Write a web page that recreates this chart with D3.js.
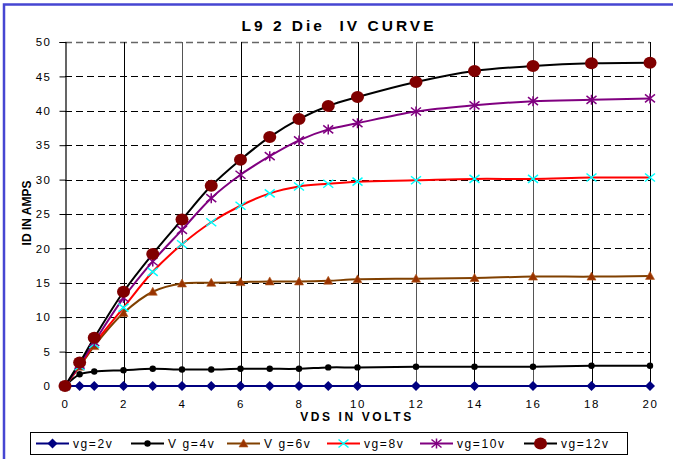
<!DOCTYPE html>
<html>
<head>
<meta charset="utf-8">
<script src="https://cdn.jsdelivr.net/npm/d3@7"></script>
<style>
  body { margin: 0; background: #fff; }
  text { font-family: Arial, "Liberation Sans", sans-serif; }
</style>
</head>
<body>
<svg id="chart"></svg>
<script>
const width = 673;
const height = 459;

// 1. Data
const vds = [0, 0.5, 1, 2, 3, 4, 5, 6, 7, 8, 9, 10, 12, 14, 16, 18, 20];
const vg2 = [0, 0, 0, 0, 0, 0, 0, 0, 0, 0, 0, 0, 0, 0, 0, 0, 0];
const vg4 = [0, 1.7, 2.1, 2.3, 2.5, 2.4, 2.4, 2.5, 2.5, 2.5, 2.7, 2.7, 2.8, 2.8, 2.8, 2.95, 2.95];
const vg6 = [0, 2.8, 5.8, 10.6, 13.7, 14.9, 15.0, 15.1, 15.2, 15.2, 15.3, 15.5, 15.6, 15.7, 15.9, 15.9, 16.0];
const vg8 = [0, 2.9, 6.1, 11.4, 16.6, 20.6, 23.8, 26.2, 28.0, 29.0, 29.4, 29.7, 29.9, 30.1, 30.1, 30.3, 30.3];
const vg10 = [0, 3.1, 6.4, 12.8, 18.1, 22.7, 27.3, 30.7, 33.4, 35.7, 37.3, 38.2, 39.9, 40.8, 41.4, 41.6, 41.8];
const vg12 = [0, 3.4, 7.0, 13.7, 19.2, 24.2, 29.1, 32.9, 36.2, 38.8, 40.7, 42.0, 44.2, 45.8, 46.5, 46.9, 47.0];

const seriesNames = ["vg=2v", "V g=4v", "V g=6v", "vg=8v", "vg=10v", "vg=12v"];
const xTicks = [0, 2, 4, 6, 8, 10, 12, 14, 16, 18, 20];
const yTicks = [0, 5, 10, 15, 20, 25, 30, 35, 40, 45, 50];

const styles = [
  { line: "#000080", marker: "diamond", fill: "#000080" },
  { line: "#000000", marker: "dot", fill: "#000000" },
  { line: "#804000", marker: "triangle", fill: "#993300" },
  { line: "#ff0000", marker: "cross", fill: "#00ffff" },
  { line: "#800080", marker: "star", fill: "#800080" },
  { line: "#000000", marker: "circle", fill: "#800000" },
];

const series = [vg2, vg4, vg6, vg8, vg10, vg12].map((vals, i) => ({
  name: seriesNames[i],
  style: styles[i],
  points: vals.map((v, j) => ({ x: vds[j], y: v })),
}));

// 2. Create bound
const svg = d3
  .select("#chart")
  .attr("width", width)
  .attr("height", height)
  .style("display", "block");

svg
  .append("rect")
  .attr("x", 4)
  .attr("y", 4.5)
  .attr("width", 720)
  .attr("height", 520)
  .attr("fill", "none")
  .attr("stroke", "#4646d2")
  .attr("stroke-width", 2.5);

const x = d3.scaleLinear().domain([0, 20]).range([65, 650]);
const y = d3.scaleLinear().domain([0, 50]).range([386, 42]);

// title
svg
  .append("text")
  .attr("x", 339)
  .attr("y", 31)
  .attr("text-anchor", "middle")
  .attr("font-size", "15.5px")
  .attr("font-weight", "bold")
  .attr("letter-spacing", "3px")
  .style("white-space", "pre")
  .text("L9 2 Die  IV CURVE");

// 3. Grid
const grid = svg.append("g");
grid
  .selectAll("line.h")
  .data(yTicks.filter((d) => d > 0))
  .join("line")
  .attr("class", "h")
  .attr("x1", x(0))
  .attr("x2", x(20))
  .attr("y1", (d) => Math.round(y(d)) + 0.5)
  .attr("y2", (d) => Math.round(y(d)) + 0.5)
  .attr("stroke", (d) => (d == 50 ? "#666" : "#000"))
  .attr("stroke-width", (d) => (d == 50 ? 1.5 : 1))
  .attr("stroke-dasharray", "7,4");

grid
  .selectAll("line.v")
  .data(xTicks.filter((d) => d > 0))
  .join("line")
  .attr("class", "v")
  .attr("x1", (d) => Math.round(x(d)) + 0.5)
  .attr("x2", (d) => Math.round(x(d)) + 0.5)
  .attr("y1", y(50))
  .attr("y2", y(0))
  .attr("stroke", (d) => (d % 4 == 0 && d != 20 ? "#555" : "#000"))
  .attr("stroke-width", 1);

// axes
const yAxis = svg
  .append("g")
  .attr("transform", `translate(${Math.round(x(0)) + 0.5},0)`)
  .call(d3.axisLeft(y).tickValues(yTicks).tickSize(6).tickPadding(8));
yAxis.select(".domain").attr("stroke", "#000").attr("stroke-width", 1.2);
yAxis
  .selectAll("text")
  .attr("font-size", "11.5px")
  .attr("font-family", "Arial, 'Liberation Sans', sans-serif")
  .attr("letter-spacing", "1.5px")
  .attr("fill", "#000");

const xAxis = svg
  .append("g")
  .attr("transform", `translate(0,${y(0)})`)
  .call(d3.axisBottom(x).tickValues(xTicks).tickSize(0).tickPadding(14));
xAxis.select(".domain").attr("stroke", "#000");
xAxis
  .selectAll("text")
  .attr("font-size", "11.5px")
  .attr("font-family", "Arial, 'Liberation Sans', sans-serif")
  .attr("letter-spacing", "1.5px")
  .attr("fill", "#000");

svg
  .append("text")
  .attr("x", 357)
  .attr("y", 421)
  .attr("text-anchor", "middle")
  .attr("font-size", "12px")
  .attr("font-weight", "bold")
  .attr("letter-spacing", "2.6px")
  .text("VDS IN VOLTS");

svg
  .append("text")
  .attr("transform", "translate(31,213) rotate(-90)")
  .attr("text-anchor", "middle")
  .attr("font-size", "12px")
  .attr("font-weight", "bold")
  .text("ID IN AMPS");

// 4. Lines and markers
const line = d3
  .line()
  .x((d) => x(d.x))
  .y((d) => y(d.y))
  .curve(d3.curveCatmullRom.alpha(0.5));

function drawMarker(g, kind, fill) {
  if (kind == "diamond") {
    g.append("path").attr("d", "M0,-5L5,0L0,5L-5,0Z").attr("fill", fill);
  } else if (kind == "dot") {
    g.append("circle").attr("r", 3.2).attr("fill", fill);
  } else if (kind == "triangle") {
    g.append("path")
      .attr("d", "M0,-4.5L4.5,3.5L-4.5,3.5Z")
      .attr("fill", fill)
      .attr("stroke", "#b05a20")
      .attr("stroke-width", 0.6);
  } else if (kind == "cross") {
    g.append("path")
      .attr("d", "M-5,-4L5,4M-5,4L5,-4")
      .attr("stroke", fill)
      .attr("stroke-width", 1.5);
  } else if (kind == "star") {
    g.append("path")
      .attr("d", "M-5,-4L5,4M-5,4L5,-4M0,-5L0,5")
      .attr("stroke", fill)
      .attr("stroke-width", 1.5);
  } else if (kind == "circle") {
    g.append("ellipse").attr("rx", 6.5).attr("ry", 6).attr("fill", fill);
  }
}

const plot = svg.append("g");
series.forEach((s) => {
  plot
    .append("path")
    .attr("d", line(s.points))
    .attr("fill", "none")
    .attr("stroke", s.style.line)
    .attr("stroke-width", 2);
});
series.forEach((s) => {
  s.points.forEach((p) => {
    const g = plot
      .append("g")
      .attr("transform", `translate(${x(p.x)},${y(p.y)})`);
    drawMarker(g, s.style.marker, s.style.fill);
  });
});

// 5. Legend
const legend = svg.append("g");
legend
  .append("rect")
  .attr("x", 30.5)
  .attr("y", 432.5)
  .attr("width", 597)
  .attr("height", 22)
  .attr("fill", "#fff")
  .attr("stroke", "#000")
  .attr("stroke-width", 1);

const legendX = [36, 131, 227, 327, 420, 524];
series.forEach((s, i) => {
  const g = legend.append("g").attr("transform", `translate(${legendX[i]},443.5)`);
  g.append("line")
    .attr("x1", 0)
    .attr("x2", 33)
    .attr("stroke", s.style.line)
    .attr("stroke-width", 2);
  drawMarker(g.append("g").attr("transform", "translate(16.5,0)"), s.style.marker, s.style.fill);
  g.append("text")
    .attr("x", 37)
    .attr("y", 4.5)
    .attr("font-size", "12px")
    .attr("letter-spacing", "1.6px")
    .text(s.name);
});
</script>
</body>
</html>
